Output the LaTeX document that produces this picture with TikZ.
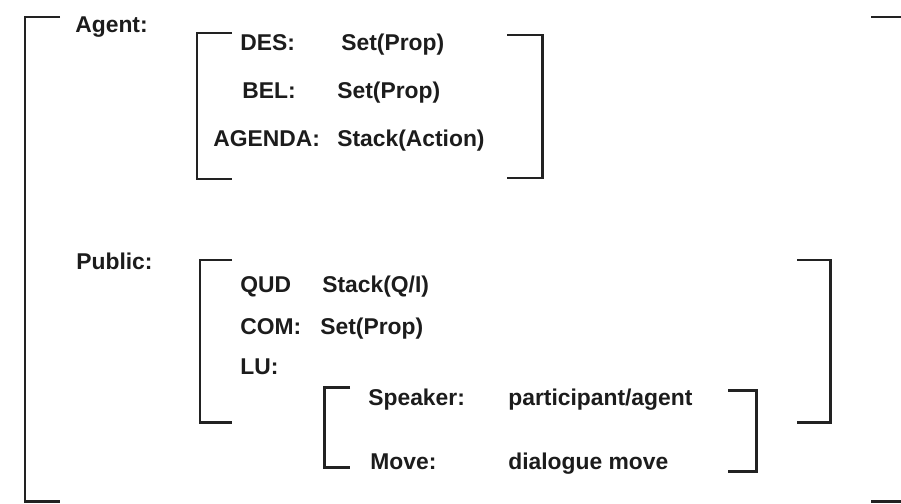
\documentclass[tikz,border=0pt]{standalone}
\usepackage{fontspec}
\setmainfont{Liberation Sans}
\usepackage{xcolor}
\definecolor{inkgrey}{RGB}{28, 28, 28}
\definecolor{rulegrey}{RGB}{34, 34, 34}
\usepackage{tikz}
\usetikzlibrary{positioning}

\begin{document}
\begin{tikzpicture}[x=0.2mm, y=-0.2mm,
    bracket/.style={line width=1.7pt, draw=rulegrey},
    feat/.style={anchor=base west, inner sep=0pt, text=inkgrey, font=\fontsize{13}{15}\selectfont\bfseries}]
    \useasboundingbox (0,0) rectangle (901,503);
    \clip (0,0) rectangle (901,503);

    % outer matrix
    \draw[bracket] (60,17) -- (25,17) -- (25,501) -- (60,501);
    \draw[bracket] (871,17) -- (912,17) -- (912,501) -- (871,501);
    \node[feat] (agent) at (75,33) {Agent:};
    \node[feat] (public) at (76,269) {Public:};

    % agent matrix
    \draw[bracket] (232,33) -- (197,33) -- (197,179) -- (232,179);
    \draw[bracket] (507,35) -- (542,35) -- (542,178) -- (507,178);
    \node[feat] (des) at (240,51) {DES:};
    \node[feat] (desval) at (341,51) {Set(Prop)};
    \node[feat] (bel) at (242,98) {BEL:};
    \node[feat] (belval) at (337,98) {Set(Prop)};
    \node[feat] (agenda) at (213,146) {AGENDA:};
    \node[feat] (agendaval) at (337,146) {Stack(Action)};

    % public matrix
    \draw[bracket] (232,260) -- (200,260) -- (200,422) -- (232,422);
    \draw[bracket] (797,260) -- (830,260) -- (830,422) -- (797,422);
    \node[feat] (qud) at (240,292) {QUD};
    \node[feat] (qudval) at (322,292) {Stack(Q/I)};
    \node[feat] (com) at (240,334) {COM:};
    \node[feat] (comval) at (320,334) {Set(Prop)};
    \node[feat] (lu) at (240,374) {LU:};

    % latest utterance
    \draw[bracket] (350,387) -- (324,387) -- (324,467) -- (350,467);
    \draw[bracket] (728,390) -- (756,390) -- (756,471) -- (728,471);
    \node[feat] (spk) at (368,405) {Speaker:};
    \node[feat] (spkval) at (508,405) {participant/agent};
    \node[feat] (move) at (370,469) {Move:};
    \node[feat] (moveval) at (508,469) {dialogue move};
\end{tikzpicture}
\end{document}
